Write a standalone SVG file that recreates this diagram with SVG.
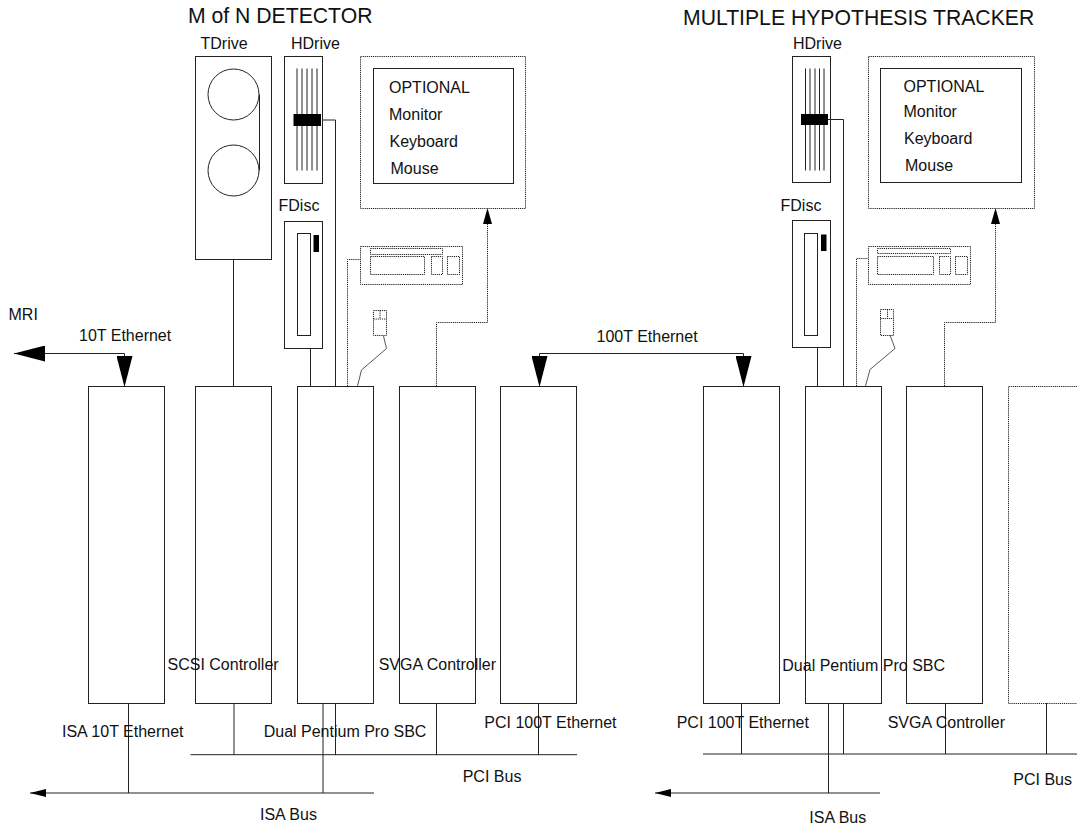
<svg xmlns="http://www.w3.org/2000/svg" width="1077" height="826" viewBox="0 0 1077 826">
<style>
text{font-family:"Liberation Sans",Arial,sans-serif;font-size:16px;fill:#111}
.t{font-size:21.2px}
.s{fill:none;stroke:#222;stroke-width:1}
.c{fill:none;stroke:#444;stroke-width:.9}
.b{fill:#fff;stroke:#222;stroke-width:1}
.d{fill:none;stroke:#222;stroke-width:1;stroke-dasharray:1.2 .9}
.k{fill:#000;stroke:none}
</style>
<defs>
<marker id="big" markerUnits="userSpaceOnUse" viewBox="0 0 31 16" refX="31" refY="8" markerWidth="31" markerHeight="16" orient="auto-start-reverse"><path d="M0 0L31 8L0 16Z" fill="#000"/></marker>
<marker id="small" markerUnits="userSpaceOnUse" viewBox="0 0 16 8" refX="16" refY="4" markerWidth="16" markerHeight="8" orient="auto"><path d="M0 0L16 4L0 8Z" fill="#000"/></marker>
</defs>
<rect width="1077" height="826" fill="#fff"/>
<g id="connectors">
<path class="s" d="M233.5 259V386M310.5 348V386M321 120H335.5V386"/>
<path class="s" d="M128.5 703V793M234 703V755M323 703V793M335.5 703V755M436.5 703V755M538.5 703V755"/>
<path class="s" d="M741.5 703V754M828.5 703V793M843.5 703V754M945.5 703V754M1046.5 703V754"/>
<path class="s" d="M190.5 754.7H577M703 754H1077"/>
<path class="s" d="M374 793H30" marker-end="url(#small)"/>
<path class="s" d="M880 793H655" marker-end="url(#small)"/>
<path class="s" d="M124.5 353.5H14" marker-end="url(#big)"/>
<path class="s" d="M124.5 353.5V387" marker-end="url(#big)"/>
<path class="s" d="M539.5 387V353.5H743.5V387" marker-start="url(#big)" marker-end="url(#big)"/>
<path class="d" d="M347.5 386V259.5H360M436.5 386V322.5H487.5V224"/>
<path class="d" d="M856.5 386V258.5H868M944.5 386V322.5H995.5V224"/>
<path d="M487.5 208L483 224H492Z M995.5 208L991 224H1000Z" fill="#000"/>
<path class="c" d="M383.5 336L386.5 348.5L361.5 370L357.5 386M890 335L895 348.5L870 369.5L865.5 386"/>
</g>
<g id="mof-title"><text class="t" x="188" y="22.5">M of N DETECTOR</text></g>
<g id="mht-title"><text class="t" x="683" y="25">MULTIPLE HYPOTHESIS TRACKER</text></g>
<g id="tdrive">
<text x="200.5" y="49">TDrive</text>
<rect class="b" x="195.5" y="56.5" width="76" height="203"/>
<circle class="s" cx="233.5" cy="94.5" r="25.5"/><circle class="s" cx="233.5" cy="170.5" r="25.5"/>
<path class="s" d="M259.5 94.5V170.5"/>
</g>
<g id="hdrive-1">
<text x="291" y="49">HDrive</text>
<rect class="b" x="284.5" y="56.5" width="38" height="127"/>
<path class="s" d="M297 68.5V170.5M302 68.5V170.5M307 68.5V170.5M312 68.5V170.5M317 68.5V170.5"/>
<rect class="k" x="293.5" y="114" width="27.5" height="12"/>
</g>
<g id="fdisc-1">
<text x="278.5" y="211">FDisc</text>
<rect class="b" x="284.5" y="221.5" width="38" height="127"/>
<rect class="b" x="297.5" y="233.5" width="13" height="102"/>
<rect class="k" x="313.5" y="235" width="5.5" height="17"/>
</g>
<g id="monitor-1">
<rect class="d" x="360.5" y="56.5" width="165" height="152"/>
<rect class="s" x="373.5" y="68.5" width="140" height="115"/>
<text x="389" y="93.3">OPTIONAL</text><text x="389" y="120">Monitor</text><text x="389.5" y="147">Keyboard</text><text x="390.5" y="174">Mouse</text>
</g>
<g id="keyboard-1">
<rect class="d" x="360.5" y="246.5" width="102" height="38"/>
<rect class="d" x="370.5" y="248.5" width="72" height="6"/>
<rect class="d" x="370.5" y="256.5" width="54" height="18"/>
<rect class="d" x="431.5" y="256.5" width="11" height="18"/>
<rect class="d" x="447.5" y="256.5" width="12" height="18"/>
</g>
<g id="mouse-1"><rect class="d" x="373.5" y="310.5" width="13" height="25"/><path class="d" d="M373.5 319H386.5M380 310.5V319"/></g>
<g id="hdrive-2">
<text x="793" y="49">HDrive</text>
<rect class="b" x="792.5" y="56.5" width="38" height="126"/>
<path class="s" d="M805.5 68.5V170.5M810 68.5V170.5M815 68.5V170.5M819.5 68.5V170.5M824 68.5V170.5"/>
<rect class="k" x="801" y="114" width="27" height="11"/>
<path class="s" d="M828 119.5H843.5V386M817.5 347V386"/>
</g>
<g id="fdisc-2">
<text x="780.5" y="211">FDisc</text>
<rect class="b" x="792.5" y="220.5" width="38" height="127"/>
<rect class="b" x="804.5" y="233.5" width="13" height="102"/>
<rect class="k" x="821" y="234.5" width="5.5" height="16.5"/>
</g>
<g id="monitor-2">
<rect class="d" x="868.5" y="56.5" width="166" height="152"/>
<rect class="s" x="880.5" y="68.5" width="141" height="114"/>
<text x="903.5" y="91.7">OPTIONAL</text><text x="903.5" y="117.3">Monitor</text><text x="904" y="144">Keyboard</text><text x="905" y="171">Mouse</text>
</g>
<g id="keyboard-2">
<rect class="d" x="868.5" y="246.5" width="102" height="38"/>
<rect class="d" x="877.5" y="248.5" width="73" height="5"/>
<rect class="d" x="877.5" y="256.5" width="56" height="18"/>
<rect class="d" x="939.5" y="256.5" width="11" height="18"/>
<rect class="d" x="955.5" y="256.5" width="12" height="18"/>
</g>
<g id="mouse-2"><rect class="d" x="880.5" y="309.5" width="13" height="26"/><path class="d" d="M880.5 318.5H893.5M887.5 309.5V318.5"/></g>
<g id="isa10t-1"><rect class="b" x="88.5" y="386.5" width="76" height="317"/></g>
<g id="scsi-1"><rect class="b" x="195.5" y="386.5" width="76" height="317"/></g>
<g id="sbc-1"><rect class="b" x="297.5" y="386.5" width="76" height="317"/></g>
<g id="svga-1"><rect class="b" x="399.5" y="386.5" width="76" height="317"/></g>
<g id="pci100-1"><rect class="b" x="500.5" y="386.5" width="76" height="317"/></g>
<g id="pci100-2"><rect class="b" x="703.5" y="386.5" width="76" height="317"/></g>
<g id="sbc-2"><rect class="b" x="805.5" y="386.5" width="76" height="317"/></g>
<g id="svga-2"><rect class="b" x="906.5" y="386.5" width="76" height="317"/></g>
<g id="optional-board"><path class="d" d="M1077 386.5H1008.5V703.5H1077"/></g>
<g id="labels">
<text x="8.5" y="320">MRI</text>
<text x="79" y="341">10T Ethernet</text>
<text x="596.5" y="341.5">100T Ethernet</text>
<text x="167.5" y="670">SCSI Controller</text>
<text x="378.7" y="670">SVGA Controller</text>
<text x="62" y="737">ISA 10T Ethernet</text>
<text x="263.7" y="737">Dual Pentium Pro SBC</text>
<text x="484.3" y="728">PCI 100T Ethernet</text>
<text x="462.7" y="782">PCI Bus</text>
<text x="260" y="820">ISA Bus</text>
<text x="782.3" y="670.5">Dual Pentium Pro SBC</text>
<text x="676.7" y="728">PCI 100T Ethernet</text>
<text x="887.7" y="728">SVGA Controller</text>
<text x="1013.3" y="785">PCI Bus</text>
<text x="809.3" y="823">ISA Bus</text>
</g>
</svg>
